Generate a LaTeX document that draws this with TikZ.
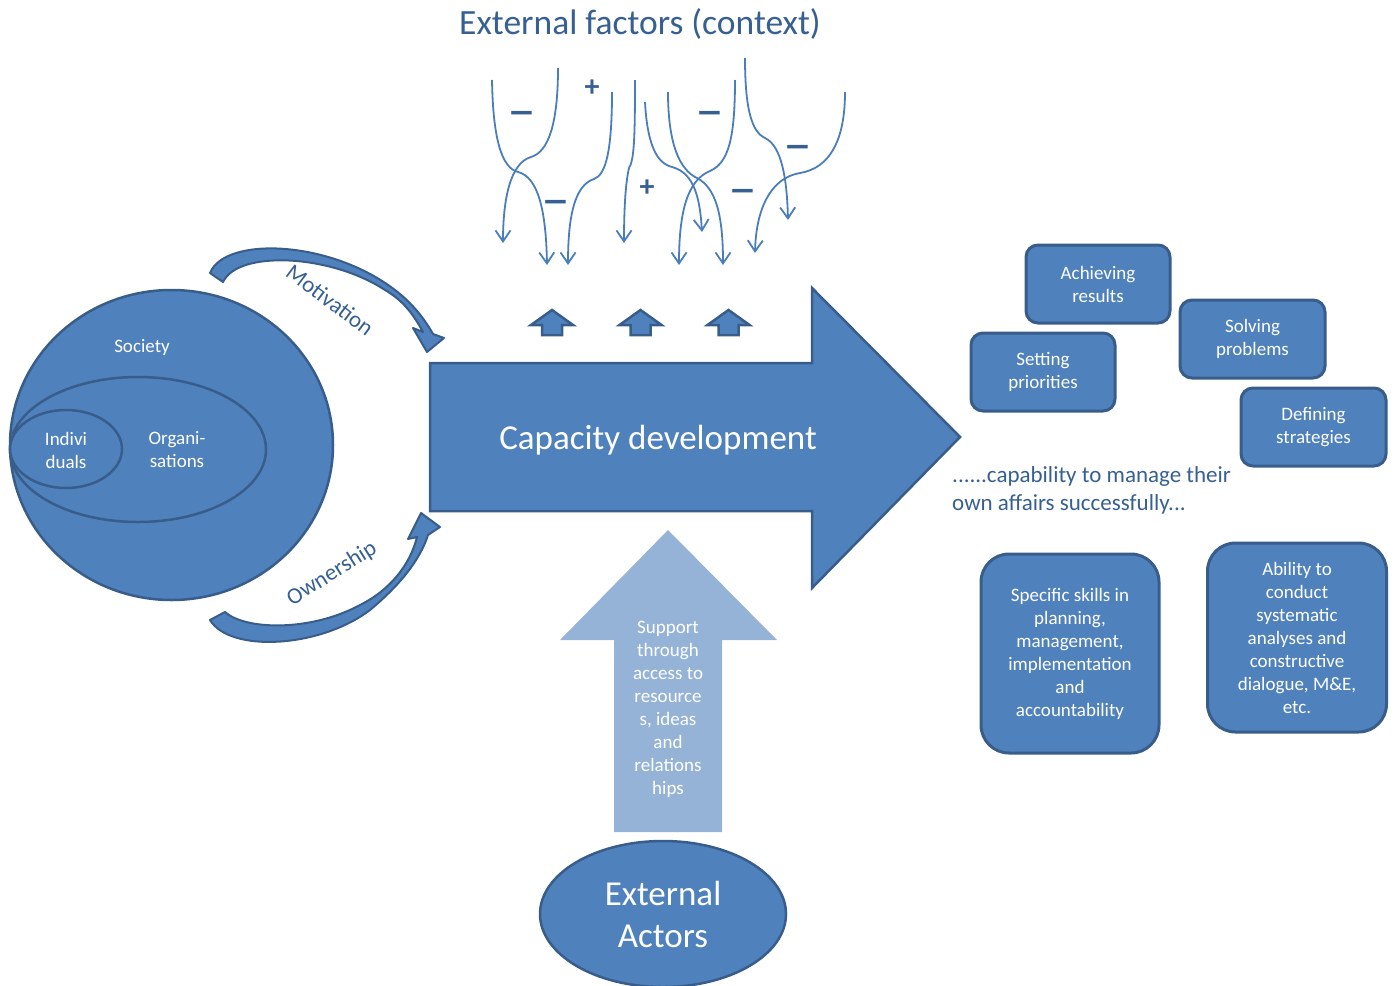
\documentclass[tikz,border=0pt]{standalone}
\usepackage{fontspec}
\setmainfont{Carlito}
\usetikzlibrary{shapes.geometric,arrows.meta}
\definecolor{bfill}{HTML}{4F81BD}
\definecolor{bline}{HTML}{385D8A}
\definecolor{lfill}{HTML}{95B3D7}
\definecolor{tcol}{HTML}{376092}
\definecolor{ccol}{HTML}{4A7EBB}
\tikzset{
  blob/.style={ellipse, draw=bline, fill=bfill, line width=2.5pt, inner sep=0pt},
  rbox/.style={rectangle, rounded corners=12pt, draw=bline, fill=bfill, line width=3pt,
    text=white, align=center, inner sep=0pt, font=\fontsize{19}{23}\selectfont},
  bigbox/.style={rbox, rounded corners=28pt},
  wtext/.style={text=white, align=center, inner sep=0pt, font=\fontsize{19}{23}\selectfont},
  btext/.style={text=tcol, inner sep=0pt},
  flux/.style={draw=ccol, line width=1.8pt, -{Straight Barb[length=11pt,width=15pt]}},
  minus/.style={text=tcol, inner sep=0pt, xscale=1.45, font=\fontsize{40}{40}\bfseries},
  plus/.style={text=tcol, inner sep=0pt, font=\fontsize{30}{30}\bfseries},
  band/.style={fill=bfill, draw=bline, line width=2pt, line join=round},
  smallup/.style={fill=bfill, draw=bline, line width=2.5pt, line join=miter},
}
\begin{document}
\begin{tikzpicture}[x=1pt,y=-1pt]
\useasboundingbox (0,0) rectangle (1396,985);

% ---- title
\node[btext, font=\fontsize{35.5}{40}\selectfont] (title) at (640,24) {External factors (context)};

% ---- external factor curves
\draw[flux] (492,80) .. controls (493,140) and (502,168) .. (518,172) .. controls (538,177) and (546,210) .. (547,265);
\draw[flux] (558,68) .. controls (558,125) and (548,152) .. (531,157) .. controls (510,163) and (503,200) .. (503,243);
\draw[flux] (612,92) .. controls (612,150) and (606,175) .. (594,179) .. controls (575,185) and (568,215) .. (568,265);
\draw[flux] (635,80) .. controls (635,140) and (634,160) .. (629,168) .. controls (625,185) and (624,215) .. (624,243);
\draw[flux] (645,102) .. controls (647,140) and (655,163) .. (672,167) .. controls (695,173) and (700,200) .. (702,232);
\draw[flux] (668,92) .. controls (668,145) and (680,170) .. (697,178) .. controls (716,188) and (723,215) .. (723,265);
\draw[flux] (735,80) .. controls (735,140) and (728,163) .. (710,171) .. controls (688,180) and (679,210) .. (679,265);
\draw[flux] (745,58) .. controls (745,110) and (752,132) .. (765,138) .. controls (782,146) and (787,180) .. (788,220);
\draw[flux] (845,92) .. controls (845,140) and (830,168) .. (800,173) .. controls (770,178) and (756,210) .. (755,253);

% ---- signs
\node[minus] (m1) at (522,118) {–};
\node[minus] (m2) at (556,207) {–};
\node[plus] (p1) at (592,88) {+};
\node[plus] (p2) at (647,188) {+};
\node[minus] (m3) at (710,118) {–};
\node[minus] (m4) at (743,196) {–};
\node[minus] (m5) at (798,152) {–};

% ---- small up arrows
\foreach \cx/\nm in {552/u1, 640.5/u2, 728.5/u3}{
  \draw[smallup] (\cx-10,335) -- (\cx-10,325) -- (\cx-21,325) -- (\cx,310) -- (\cx+21,325) -- (\cx+10,325) -- (\cx+10,335) -- cycle;
  \coordinate (\nm) at (\cx,322);
}

% ---- society circles
\node[blob, minimum width=323pt, minimum height=310pt] (society) at (171.5,445) {};
\node[blob, minimum width=256pt, minimum height=145pt] (orgs) at (138,449.5) {};
\node[blob, minimum width=112pt, minimum height=78pt] (indiv) at (66,449) {};
\node[wtext] (societyt) at (142,347) {Society};
\node[wtext] (orgst) at (177,450) {Organi-\\sations};
\node[wtext] (indivt) at (66,450) {Indivi\\duals};

% ---- motivation band arrow
\draw[band] (210,273) .. controls (225,236) and (330,240) .. (395,290) .. controls (412,303) and (424,318) .. (433,334)
  -- (444,338) -- (427,352) -- (413,328) -- (423,332)
  .. controls (412,312) and (402,300) .. (385,290) .. controls (330,254) and (238,250) .. (223,282) -- cycle;
\node[btext, font=\fontsize{23}{23}\selectfont, rotate=-37] (motiv) at (330,300) {Motivation};

% ---- ownership band arrow
\draw[band] (210,620) .. controls (230,653) and (320,648) .. (370,610) .. controls (400,585) and (420,560) .. (428,535)
  -- (440,527) -- (421,513) -- (408,539) -- (417,537)
  .. controls (410,565) and (390,590) .. (360,605) .. controls (310,632) and (245,630) .. (225,612) -- cycle;
\node[btext, font=\fontsize{23}{23}\selectfont, rotate=32] (owner) at (332,574) {Ownership};

% ---- capacity development arrow
\draw[fill=bfill, draw=bline, line width=2.5pt, line join=miter]
  (430,363) -- (812,363) -- (812,288) -- (960,437) -- (812,588) -- (812,511) -- (430,511) -- cycle;
\node[text=white, inner sep=0pt, font=\fontsize{35}{40}\selectfont] (capdev) at (658,440) {Capacity development};

% ---- support arrow
\fill[lfill] (614,832) -- (614,640) -- (560,640) -- (668,530) -- (777,640) -- (722,640) -- (722,832) -- cycle;
\node[wtext] (support) at (668,709) {Support\\through\\access to\\resource\\s, ideas\\and\\relations\\hips};

% ---- external actors
\node[blob, minimum width=246pt, minimum height=146pt, text=white, align=center,
  font=\fontsize{35}{42}\selectfont] (actors) at (663,914) {External\\Actors};

% ---- capability boxes
\node[rbox, minimum width=144pt, minimum height=78pt] (achieve) at (1098,284) {Achieving\\results};
\node[rbox, minimum width=145pt, minimum height=78pt] (solve) at (1252.5,339) {Solving\\problems};
\node[rbox, minimum width=144pt, minimum height=78pt] (setting) at (1043,372) {Setting\\priorities};
\node[rbox, minimum width=145pt, minimum height=78pt] (define) at (1313.5,427) {Defining\\strategies};
\node[btext, anchor=west, align=left, font=\fontsize{23}{28}\selectfont] (caption) at (952,490)
  {......capability to manage their\\own affairs successfully...};
\node[bigbox, minimum width=178pt, minimum height=199pt] (skills) at (1070,653.5)
  {Specific skills in\\planning,\\management,\\implementation\\and\\accountability};
\node[bigbox, minimum width=179pt, minimum height=189pt] (ability) at (1297,637.5)
  {Ability to\\conduct\\systematic\\analyses and\\constructive\\dialogue, M\&E,\\etc.};
\end{tikzpicture}
\end{document}
